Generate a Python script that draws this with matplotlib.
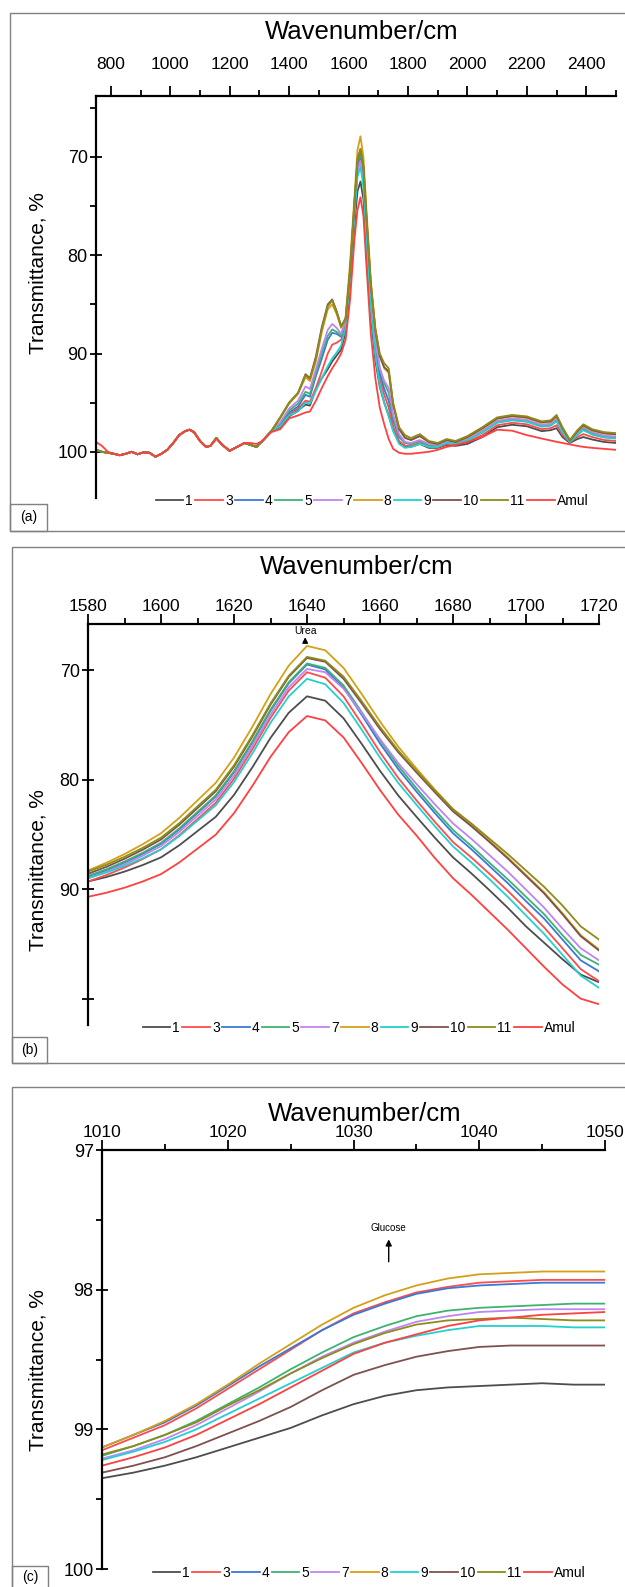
import matplotlib
matplotlib.use("Agg")
import matplotlib.pyplot as plt
from matplotlib.patches import Rectangle
from matplotlib.ticker import MultipleLocator

plt.rcParams['font.family'] = ['Liberation Sans', 'DejaVu Sans']

labels = ['1', '3', '4', '5', '7', '8', '9', '10', '11', 'Amul']
colors = ['#4d4d4d', '#ff4b4b', '#3a78d8', '#3cb371', '#c084f0',
          '#d4a017', '#22d0d0', '#7f5050', '#8c8c1a', '#ff4040']

# ---- panel (a): full spectrum ----
a_x_low = [750, 770, 790, 810, 830, 850, 870, 890, 910, 930, 950, 970, 990, 1010,
           1030, 1050, 1065, 1080, 1100, 1120, 1135, 1155, 1175, 1200, 1225, 1250,
           1270, 1290, 1310, 1340]
a_low_common = [99.8, 100.0, 100.1, 100.2, 100.35, 100.2, 100.0, 100.25, 100.05, 100.1,
                100.5, 100.2, 99.8, 99.1, 98.3, 97.9, 97.75, 98.0, 98.9, 99.5, 99.4,
                98.6, 99.3, 99.9, 99.5, 99.1, 99.3, 99.5, 98.9, 97.9]
a_low_amul = [99.0, 99.4, 100.0, 100.2, 100.35, 100.2, 100.0, 100.25, 100.05, 100.1,
              100.5, 100.2, 99.8, 99.1, 98.3, 97.9, 97.75, 98.0, 98.9, 99.5, 99.4,
              98.7, 99.3, 99.9, 99.5, 99.1, 99.1, 99.2, 98.9, 98.0]

a_x_mid = [1370, 1400, 1430, 1455, 1470, 1490, 1510, 1530, 1545, 1560, 1575, 1590,
           1605, 1620, 1630, 1640, 1650, 1660, 1675, 1690, 1705, 1720, 1735, 1750, 1770]
a_mid_1 = [97.5, 96.4, 95.8, 95.2, 95.3, 93.6, 92.5, 91.6, 90.8, 90.2, 89.6, 87.8,
           83.5, 76.8, 73.5, 72.5, 74.3, 79.3, 86.3, 90.7, 93.4, 95.0, 96.3, 97.8, 99.0]
a_mid_3 = [97.3, 96.2, 95.6, 94.8, 94.9, 93.5, 91.8, 90.0, 89.1, 88.9, 88.6, 87.2,
           82.5, 75.5, 71.3, 70.2, 72.2, 77.6, 84.9, 89.6, 92.6, 94.2, 95.5, 97.4, 98.9]
a_mid_4 = [97.2, 96.0, 95.4, 94.2, 94.4, 92.3, 90.5, 88.6, 87.9, 88.0, 88.3, 86.9,
           82.2, 75.1, 70.9, 69.8, 71.8, 77.2, 84.3, 89.0, 92.0, 93.6, 94.8, 96.8, 98.5]
a_mid_5 = [97.1, 95.8, 95.1, 93.9, 94.1, 92.0, 90.0, 88.2, 87.55, 87.8, 88.2, 86.8,
           82.0, 75.0, 70.6, 69.5, 71.5, 76.8, 84.0, 88.6, 91.5, 93.0, 94.0, 96.5, 98.4]
a_mid_7 = [97.0, 95.6, 94.8, 93.35, 93.6, 91.6, 89.5, 87.6, 87.0, 87.4, 88.0, 86.7,
           82.0, 75.3, 71.4, 70.4, 72.3, 77.4, 84.3, 88.8, 91.5, 92.8, 93.5, 96.2, 98.2]
a_mid_8 = [96.6, 95.1, 94.1, 92.4, 92.8, 90.8, 87.8, 85.5, 85.0, 86.0, 87.4, 86.3,
           80.8, 74.0, 69.3, 67.9, 70.0, 75.3, 82.6, 87.4, 90.2, 91.5, 92.0, 95.2, 97.6]
a_mid_9 = [97.4, 96.3, 95.9, 95.0, 95.1, 93.8, 92.5, 91.3, 90.5, 89.9, 89.2, 87.4,
           82.6, 75.8, 72.0, 71.0, 73.0, 78.4, 85.6, 90.2, 93.2, 95.0, 96.4, 97.9, 99.2]
a_mid_10 = [96.5, 95.0, 94.0, 92.1, 92.5, 90.3, 87.3, 85.0, 84.5, 85.7, 87.2, 86.5,
            81.6, 74.6, 70.3, 69.2, 71.0, 76.0, 83.0, 87.6, 90.3, 91.4, 91.8, 95.2, 97.7]
a_mid_11 = [96.5, 95.0, 94.0, 92.2, 92.6, 90.5, 87.5, 85.2, 84.6, 85.8, 87.3, 86.5,
            81.5, 74.5, 70.3, 69.2, 71.0, 76.0, 83.0, 87.5, 90.0, 91.0, 91.5, 95.0, 97.5]
a_mid_amul = [97.7, 96.6, 96.3, 96.0, 95.9, 94.8, 93.5, 92.3, 91.5, 90.8, 90.0, 88.6,
              84.5, 78.3, 75.4, 74.1, 76.0, 81.0, 88.0, 92.5, 95.5, 97.2, 98.7, 99.7, 100.1]

a_x_tail = [1790, 1810, 1840, 1870, 1900, 1930, 1960, 2000, 2050, 2100, 2150, 2200,
            2250, 2280, 2300, 2320, 2345, 2370, 2390, 2420, 2460, 2500]
a_tail_1 = [99.4, 99.5, 99.2, 99.6, 99.6, 99.3, 99.4, 99.2, 98.5, 97.5, 97.25, 97.4,
            97.9, 97.8, 97.6, 98.5, 99.1, 98.7, 98.5, 98.75, 99.0, 99.1]
a_tail_3 = [99.4, 99.4, 99.1, 99.5, 99.55, 99.2, 99.3, 99.0, 98.3, 97.3, 97.05, 97.2,
            97.7, 97.6, 97.3, 98.3, 99.0, 98.5, 98.2, 98.5, 98.8, 98.9]
a_tail_4 = [99.1, 99.2, 98.9, 99.3, 99.4, 99.05, 99.2, 98.8, 98.0, 97.0, 96.75, 96.9,
            97.4, 97.3, 96.8, 98.0, 98.95, 98.25, 97.7, 98.2, 98.5, 98.6]
a_tail_5 = [99.1, 99.2, 98.9, 99.3, 99.35, 99.0, 99.15, 98.75, 97.9, 96.9, 96.65, 96.8,
            97.3, 97.2, 96.7, 97.9, 98.9, 98.15, 97.6, 98.1, 98.4, 98.5]
a_tail_7 = [99.0, 99.1, 98.8, 99.2, 99.3, 98.95, 99.1, 98.7, 97.85, 96.85, 96.6, 96.75,
            97.25, 97.15, 96.6, 97.85, 98.9, 98.1, 97.5, 98.0, 98.35, 98.45]
a_tail_8 = [98.5, 98.8, 98.4, 99.0, 99.2, 98.8, 99.0, 98.55, 97.65, 96.65, 96.4, 96.55,
            97.05, 96.95, 96.4, 97.65, 98.85, 97.95, 97.35, 97.85, 98.15, 98.25]
a_tail_9 = [99.6, 99.5, 99.2, 99.5, 99.5, 99.1, 99.2, 98.85, 98.05, 97.05, 96.8, 96.95,
            97.45, 97.35, 96.9, 98.05, 99.0, 98.3, 97.8, 98.25, 98.55, 98.65]
a_tail_10 = [98.6, 98.8, 98.4, 99.0, 99.2, 98.8, 99.0, 98.5, 97.6, 96.6, 96.35, 96.5,
             97.0, 96.9, 96.35, 97.6, 98.85, 97.9, 97.3, 97.8, 98.1, 98.2]
a_tail_11 = [98.3, 98.6, 98.2, 98.9, 99.1, 98.7, 98.9, 98.4, 97.5, 96.5, 96.25, 96.4,
             96.9, 96.8, 96.25, 97.5, 98.8, 97.8, 97.2, 97.7, 98.0, 98.1]
a_tail_amul = [100.2, 100.2, 100.1, 100.0, 99.8, 99.5, 99.3, 99.0, 98.5, 97.75, 97.85,
               98.3, 98.65, 98.85, 98.98, 99.1, 99.25, 99.4, 99.5, 99.6, 99.7, 99.8]

a_mid = [a_mid_1, a_mid_3, a_mid_4, a_mid_5, a_mid_7, a_mid_8, a_mid_9,
         a_mid_10, a_mid_11, a_mid_amul]
a_tail = [a_tail_1, a_tail_3, a_tail_4, a_tail_5, a_tail_7, a_tail_8, a_tail_9,
          a_tail_10, a_tail_11, a_tail_amul]

# ---- panel (b): urea band ----
b_x = [1580, 1585, 1590, 1595, 1600, 1605, 1610, 1615, 1620, 1625, 1630, 1635, 1640,
       1645, 1650, 1655, 1660, 1665, 1670, 1675, 1680, 1685, 1690, 1695, 1700, 1705,
       1710, 1715, 1720]
b_1 = [89.3, 88.9, 88.4, 87.8, 87.1, 86.0, 84.7, 83.4, 81.4, 78.9, 76.2, 73.9, 72.4,
       72.8, 74.4, 76.75, 79.2, 81.45, 83.4, 85.3, 87.1, 88.55, 90.1, 91.7, 93.4, 94.9,
       96.4, 97.8, 98.5]
b_3 = [89.3, 88.72, 88.03, 87.25, 86.37, 85.08, 83.6, 82.12, 79.93, 77.25, 74.37, 71.88,
       70.2, 70.7, 72.4, 74.9, 77.5, 79.85, 81.9, 83.85, 85.7, 87.1, 88.6, 90.15, 91.8,
       93.5, 95.4, 97.3, 98.4]
b_4 = [88.9, 88.29, 87.58, 86.78, 85.87, 84.56, 83.05, 81.54, 79.33, 76.63, 73.72, 71.21,
       69.5, 69.95, 71.6, 74.1, 76.7, 79.05, 81.1, 83.05, 84.9, 86.35, 87.9, 89.45, 91.1,
       92.7, 94.6, 96.5, 97.5]
b_5 = [88.8, 88.19, 87.48, 86.68, 85.77, 84.46, 82.95, 81.44, 79.23, 76.53, 73.62, 71.11,
       69.4, 69.8, 71.4, 73.85, 76.4, 78.75, 80.8, 82.75, 84.6, 86.05, 87.6, 89.1, 90.7,
       92.3, 94.2, 96.0, 96.9]
b_7 = [89.0, 88.42, 87.73, 86.95, 86.07, 84.78, 83.3, 81.82, 79.63, 76.95, 74.07, 71.58,
       69.9, 70.2, 71.7, 73.95, 76.3, 78.5, 80.4, 82.25, 84.0, 85.4, 86.9, 88.4, 90.05,
       91.7, 93.6, 95.4, 96.5]
b_8 = [88.3, 87.6, 86.8, 85.9, 84.9, 83.5, 81.9, 80.3, 78.0, 75.2, 72.2, 69.6, 67.8,
       68.2, 69.8, 72.2, 74.7, 77.0, 79.0, 80.9, 82.7, 84.1, 85.6, 87.1, 88.7, 90.3,
       92.2, 94.2, 95.5]
b_9 = [89.0, 88.49, 87.88, 87.18, 86.37, 85.16, 83.75, 82.34, 80.23, 77.63, 74.82, 72.41,
       70.8, 71.3, 73.0, 75.45, 78.0, 80.3, 82.3, 84.25, 86.1, 87.55, 89.1, 90.7, 92.4,
       94.1, 96.0, 97.9, 99.0]
b_10 = [88.6, 87.97, 87.23, 86.4, 85.47, 84.13, 82.6, 81.07, 78.83, 76.1, 73.17, 70.63,
        68.9, 69.25, 70.8, 73.05, 75.4, 77.5, 79.35, 81.15, 82.9, 84.25, 85.7, 87.2, 88.8,
        90.4, 92.3, 94.3, 95.6]
b_11 = [88.4, 87.78, 87.05, 86.23, 85.3, 83.98, 82.45, 80.93, 78.7, 75.98, 73.05, 70.53,
        68.8, 69.15, 70.6, 72.85, 75.2, 77.35, 79.2, 81.0, 82.7, 84.0, 85.4, 86.8, 88.3,
        89.8, 91.5, 93.4, 94.6]
b_amul = [90.7, 90.33, 89.87, 89.3, 88.63, 87.57, 86.3, 85.03, 83.07, 80.6, 77.93, 75.67,
          74.2, 74.6, 76.15, 78.5, 80.95, 83.2, 85.1, 87.15, 89.0, 90.5, 92.1, 93.7, 95.4,
          97.1, 98.7, 100.0, 100.5]
b_y = [b_1, b_3, b_4, b_5, b_7, b_8, b_9, b_10, b_11, b_amul]

# ---- panel (c): glucose band ----
c_x = [1010, 1012.5, 1015, 1017.5, 1020, 1022.5, 1025, 1027.5, 1030, 1032.5, 1035,
       1037.5, 1040, 1042.5, 1045, 1047.5, 1050]
c_1 = [99.35, 99.31, 99.26, 99.20, 99.13, 99.06, 98.99, 98.90, 98.82, 98.76, 98.72,
       98.70, 98.69, 98.68, 98.67, 98.68, 98.68]
c_3 = [99.15, 99.06, 98.97, 98.85, 98.71, 98.57, 98.43, 98.29, 98.17, 98.09, 98.02,
       97.98, 97.95, 97.94, 97.93, 97.93, 97.93]
c_4 = [99.13, 99.04, 98.95, 98.83, 98.69, 98.55, 98.42, 98.29, 98.18, 98.10, 98.03,
       97.99, 97.97, 97.96, 97.95, 97.95, 97.95]
c_5 = [99.19, 99.12, 99.04, 98.94, 98.82, 98.70, 98.57, 98.45, 98.34, 98.26, 98.19,
       98.15, 98.13, 98.12, 98.11, 98.10, 98.10]
c_7 = [99.21, 99.15, 99.07, 98.97, 98.85, 98.73, 98.60, 98.48, 98.38, 98.30, 98.23,
       98.19, 98.16, 98.15, 98.14, 98.14, 98.14]
c_8 = [99.13, 99.04, 98.94, 98.82, 98.68, 98.53, 98.39, 98.25, 98.13, 98.04, 97.97,
       97.92, 97.89, 97.88, 97.87, 97.87, 97.87]
c_9 = [99.22, 99.16, 99.09, 99.00, 98.89, 98.78, 98.67, 98.56, 98.45, 98.38, 98.33,
       98.29, 98.26, 98.26, 98.26, 98.27, 98.27]
c_10 = [99.31, 99.26, 99.20, 99.12, 99.03, 98.94, 98.84, 98.72, 98.61, 98.54, 98.48,
        98.44, 98.41, 98.40, 98.40, 98.40, 98.40]
c_11 = [99.18, 99.12, 99.04, 98.95, 98.83, 98.72, 98.60, 98.49, 98.39, 98.31, 98.25,
        98.22, 98.21, 98.20, 98.21, 98.22, 98.22]
c_amul = [99.26, 99.20, 99.13, 99.04, 98.93, 98.82, 98.70, 98.58, 98.46, 98.38, 98.32,
          98.26, 98.22, 98.20, 98.18, 98.17, 98.16]
c_y = [c_1, c_3, c_4, c_5, c_7, c_8, c_9, c_10, c_11, c_amul]

W, H = 625, 1587
fig = plt.figure(figsize=(W / 100, H / 100), dpi=100)


def px(x, y):
    return x / W, 1 - y / H


def frame(x0, y0, x1, y1):
    fig.add_artist(Rectangle(px(x0, y1), (x1 - x0) / W, (y1 - y0) / H,
                             transform=fig.transFigure, fill=False,
                             edgecolor='#808080', lw=1.0))


def tag(text, x0, y0, x1, y1, ty):
    frame(x0, y0, x1, y1)
    fig.text(*px((x0 + x1) / 2, ty), text, ha='center', va='center', fontsize=10)


def make_axes(l, t, r, b, xpad, title_xy, ylab_xy):
    ax = fig.add_axes([l / W, 1 - b / H, (r - l) / W, (b - t) / H])
    for side in ['right', 'bottom']:
        ax.spines[side].set_visible(False)
    for side in ['left', 'top']:
        ax.spines[side].set_linewidth(1.6)
    ax.xaxis.tick_top()
    ax.tick_params(axis='x', which='major', direction='out', length=7, width=1.3,
                   labelsize=12.5, pad=xpad)
    ax.tick_params(axis='x', which='minor', direction='out', length=4, width=1.3)
    ax.tick_params(axis='y', which='major', direction='inout', length=8, width=1.3,
                   labelsize=13, pad=2)
    ax.tick_params(axis='y', which='minor', direction='out', length=4, width=1.3)
    fig.text(*px(*title_xy), 'Wavenumber/cm', ha='center', va='center', fontsize=18.5)
    fig.text(*px(*ylab_xy), 'Transmittance, %', ha='center', va='center',
             rotation=90, fontsize=15)
    return ax


def add_legend(ax, handles, cx, cy):
    ax.legend(handles, labels, loc='center', bbox_to_anchor=px(cx, cy),
              bbox_transform=fig.transFigure, ncol=10, frameon=False, fontsize=10,
              handlelength=2.0, handletextpad=0.15, columnspacing=0.15,
              borderpad=0, borderaxespad=0)


# panel (a)
frame(10, 13, 626, 531)
tag('(a)', 10, 504, 47, 531, 517)
ax = make_axes(96, 96, 616, 498, 10, (362, 32), (38, 273))
handles = []
for i in range(10):
    low = a_low_amul if labels[i] == 'Amul' else a_low_common
    h, = ax.plot(a_x_low + a_x_mid + a_x_tail, low + a_mid[i] + a_tail[i],
                 color=colors[i], lw=1.3)
    handles.append(h)
ax.set_xlim(750, 2500)
ax.set_ylim(104.7, 63.8)
ax.xaxis.set_major_locator(MultipleLocator(200))
ax.xaxis.set_minor_locator(MultipleLocator(100))
ax.yaxis.set_major_locator(MultipleLocator(10))
ax.yaxis.set_minor_locator(MultipleLocator(5))
add_legend(ax, handles, 372, 501)

# panel (b)
frame(12, 547, 626, 1063)
tag('(b)', 12, 1037, 47, 1063, 1050)
ax = make_axes(88, 624, 599, 1025, 0, (357, 567), (38, 870))
handles = []
for i in range(10):
    h, = ax.plot(b_x, b_y[i], color=colors[i], lw=1.3)
    handles.append(h)
ax.set_xlim(1580, 1720)
ax.set_ylim(102.4, 65.8)
ax.xaxis.set_major_locator(MultipleLocator(20))
ax.xaxis.set_minor_locator(MultipleLocator(10))
ax.set_yticks([70, 80, 90, 100])
ax.set_yticklabels(['70', '80', '90', ''])
ax.annotate('', xy=(1639.5, 66.75), xytext=(1639.5, 67.6),
            arrowprops=dict(arrowstyle='-|>', color='black', lw=1.0, mutation_scale=8))
ax.text(1639.5, 66.42, 'Urea', ha='center', va='center', fontsize=7.5)
add_legend(ax, handles, 359, 1028)

# panel (c)
frame(12, 1087, 626, 1590)
tag('(c)', 12, 1566, 48, 1590, 1577)
ax = make_axes(102, 1150, 605, 1569, 0, (365, 1114), (38, 1370))
handles = []
for i in range(10):
    h, = ax.plot(c_x, c_y[i], color=colors[i], lw=1.3)
    handles.append(h)
ax.set_xlim(1010, 1050)
ax.set_ylim(100, 97)
ax.xaxis.set_major_locator(MultipleLocator(10))
ax.xaxis.set_minor_locator(MultipleLocator(5))
ax.yaxis.set_major_locator(MultipleLocator(1))
ax.yaxis.set_minor_locator(MultipleLocator(0.5))
ax.annotate('', xy=(1032.8, 97.62), xytext=(1032.8, 97.82),
            arrowprops=dict(arrowstyle='-|>', color='black', lw=1.0, mutation_scale=9))
ax.text(1032.8, 97.56, 'Glucose', ha='center', va='center', fontsize=7)
add_legend(ax, handles, 369, 1573)

fig.savefig('out.png', dpi=100)
